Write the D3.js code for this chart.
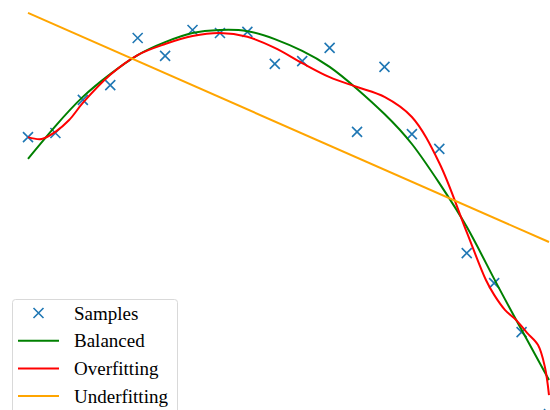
<!DOCTYPE html>
<html>
<head>
<meta charset="utf-8">
<script src="https://cdn.jsdelivr.net/npm/d3@7"></script>
<style>
  body { margin: 0; background: #fff; }
  svg { display: block; }
  .legend text { font-family: "Liberation Serif", "Times New Roman", "DejaVu Serif", serif; }
</style>
</head>
<body>
<script>
// samples (x = sample index, y = value)
var sampleX = d3.range(20);
var sampleY = [0.718, 0.729, 0.816, 0.855, 0.979, 0.932, 1.000, 0.992, 0.995, 0.911,
               0.918, 0.953, 0.732, 0.903, 0.726, 0.687, 0.413, 0.334, 0.205, -0.011];

// balanced fit, read at each sample position
var balancedX = d3.range(20);
var balancedY = [0.661, 0.747, 0.824, 0.884, 0.934, 0.968, 0.992, 1.000, 0.997, 0.976,
                 0.945, 0.903, 0.845, 0.779, 0.700, 0.597, 0.482, 0.345, 0.211, 0.079];

// overfitting curve (extra points where it wiggles)
var overX = [0, 0.5, 1, 1.5, 2, 3, 4, 5, 6, 7, 8, 9, 10, 11, 12, 13, 14, 15, 16,
             16.7, 17, 17.4, 17.8, 18.2, 18.6, 18.85, 19];
var overY = [0.718, 0.713, 0.732, 0.763, 0.808, 0.882, 0.934, 0.963, 0.984, 0.992, 0.982, 0.953,
             0.913, 0.876, 0.850, 0.824, 0.771, 0.650, 0.468,
             0.342, 0.303, 0.263, 0.237, 0.203, 0.171, 0.113, 0.039];

// underfitting straight line
var underX = [0, 19];
var underY = [1.045, 0.442];

var legendLabels = ["Samples", "Balanced", "Overfitting", "Underfitting"];

var width = 550,
    height = 410;

var x = d3.scaleLinear().domain([0, 19]).range([28, 549]);
var y = d3.scaleLinear().domain([0, 1]).range([410, 30]);

var svg = d3.select("body").append("svg")
    .attr("width", width)
    .attr("height", height);

function makeLine(curve) {
    return d3.line()
        .x(function(d) { return x(d[0]); })
        .y(function(d) { return y(d[1]); })
        .curve(curve);
}

function xMark(sel, s) {
    sel.append("path")
        .attr("d", "M" + (-s) + "," + (-s) + "L" + s + "," + s + "M" + (-s) + "," + s + "L" + s + "," + (-s))
        .attr("stroke", "#1f77b4")
        .attr("stroke-width", 1.6)
        .attr("fill", "none");
}

// samples
svg.append("g").selectAll("g")
    .data(sampleX.map(function(d, i) { return [d, sampleY[i]]; }))
    .enter().append("g")
    .attr("transform", function(d) { return "translate(" + x(d[0]) + "," + y(d[1]) + ")"; })
    .each(function() { xMark(d3.select(this), 5); });

var series = [
    {xs: balancedX, ys: balancedY, color: "green", curve: d3.curveNatural},
    {xs: overX, ys: overY, color: "red", curve: d3.curveCatmullRom.alpha(0.5)},
    {xs: underX, ys: underY, color: "orange", curve: d3.curveLinear}
];

series.forEach(function(s) {
    svg.append("path")
        .datum(s.xs.map(function(d, i) { return [d, s.ys[i]]; }))
        .attr("d", makeLine(s.curve))
        .attr("fill", "none")
        .attr("stroke", s.color)
        .attr("stroke-width", 2);
});

// legend
var legend = svg.append("g").attr("class", "legend");
legend.append("rect")
    .attr("x", 12.5).attr("y", 299.5)
    .attr("width", 165).attr("height", 125)
    .attr("rx", 3)
    .attr("fill", "white").attr("fill-opacity", 0.8)
    .attr("stroke", "#d9d9d9");

legendLabels.forEach(function(lab, i) {
    var ly = 313 + i * 27.7;
    if (i === 0) {
        var g = legend.append("g").attr("transform", "translate(38.5," + ly + ")");
        xMark(g, 5);
    } else {
        legend.append("line")
            .attr("x1", 18).attr("x2", 59)
            .attr("y1", ly).attr("y2", ly)
            .attr("stroke", series[i - 1].color)
            .attr("stroke-width", 2);
    }
    legend.append("text")
        .attr("x", 74).attr("y", ly + 6.5)
        .attr("font-size", 19)
        .attr("fill", "#000")
        .text(lab);
});
</script>
</body>
</html>
